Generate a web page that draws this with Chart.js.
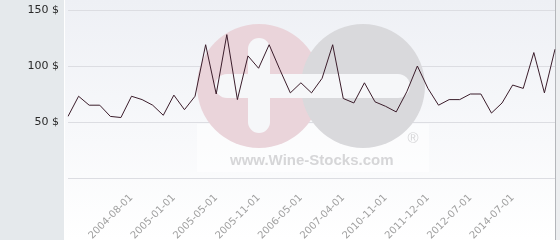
<!DOCTYPE html>
<html>
<head>
<meta charset="utf-8">
<script src="https://cdn.jsdelivr.net/npm/chart.js@4"></script>
<style>
  html, body { margin: 0; padding: 0; background: #fff; }
  #wrap { width: 560px; height: 240px; }
</style>
</head>
<body>
<div id="wrap"><canvas id="priceChart" width="560" height="240"></canvas></div>
<script>
// only the dates printed on the axis are known, the rest are left blank
const dates = ['', '', '', '', '', '', '2004-08-01', '', '', '', '2005-01-01', '', '', '',
  '2005-05-01', '', '', '', '2005-11-01', '', '', '', '2006-05-01', '', '', '', '2007-04-01',
  '', '', '', '2010-11-01', '', '', '', '2011-12-01', '', '', '', '2012-07-01', '', '', '',
  '2014-07-01', '', '', '', ''];
const prices = [55, 73, 65, 65, 55, 54, 73, 70, 65, 56, 74, 61, 73, 119, 75, 128, 70, 109,
  98, 119, 97, 76, 85, 76, 89, 119, 71, 67, 85, 68, 64, 59, 77, 100, 80, 65, 70, 70, 75, 75,
  58, 67, 83, 80, 112, 76, 115];
const yTicks = [0, 50, 100, 150];

// fond : panneau gris à gauche, dégradé dans la zone du graphique
const background = {
  id: 'background',
  beforeDraw(chart) {
    const c = chart.ctx;
    const area = chart.chartArea;
    c.save();
    c.fillStyle = '#e5e9ec';
    c.fillRect(0, 0, 64, chart.height);
    c.fillStyle = '#ffffff';
    c.fillRect(64, 0, 1, chart.height);
    const g = c.createLinearGradient(0, 0, 0, chart.height);
    g.addColorStop(0, '#eef0f5');
    g.addColorStop(1, '#ffffff');
    c.fillStyle = g;
    c.fillRect(65, 0, area.right - 65, chart.height);
    c.fillStyle = '#b4b6ba';
    c.fillRect(area.right, 0, 1, chart.height);
    c.fillStyle = '#eceef0';
    c.fillRect(area.right + 1, 0, chart.width - area.right - 1, chart.height);
    c.restore();
  }
};

// logo en filigrane derrière la courbe
const watermark = {
  id: 'watermark',
  beforeDatasetsDraw(chart) {
    const c = chart.ctx;
    c.save();
    c.fillStyle = 'rgba(255,255,255,0.55)';
    c.fillRect(197, 124, 232, 48);
    c.fillStyle = '#ead4da';
    c.beginPath();
    c.arc(259, 86, 62, 0, Math.PI * 2);
    c.fill();
    c.fillStyle = '#d9d9dc';
    c.beginPath();
    c.arc(363, 86, 62, 0, Math.PI * 2);
    c.fill();
    c.fillStyle = '#f6f7f9';
    c.beginPath();
    c.roundRect(215, 74, 195, 24, 12);
    c.fill();
    c.beginPath();
    c.roundRect(248, 38, 22, 95, 11);
    c.fill();
    c.fillStyle = '#d6d6d8';
    c.font = 'bold 15px "Liberation Sans"';
    c.textBaseline = 'middle';
    c.fillText('www.Wine-Stocks.com', 230, 161, 164);
    c.font = '15px "Liberation Sans"';
    c.textAlign = 'center';
    c.fillText('®', 413, 139);
    c.restore();
  }
};

const ctx = document.getElementById('priceChart').getContext('2d');
const priceChart = new Chart(ctx, {
  type: 'line',
  data: {
    labels: dates,
    datasets: [{
      data: prices,
      borderColor: '#3b1d2b',
      borderWidth: 1,
      pointRadius: 0,
      tension: 0,
      fill: false
    }]
  },
  options: {
    responsive: false,
    animation: false,
    layout: { padding: { top: 10, right: 5, left: 0, bottom: 0 } },
    plugins: { legend: { display: false }, tooltip: { enabled: false } },
    scales: {
      y: {
        min: 0,
        max: 150,
        afterBuildTicks(axis) { axis.ticks = yTicks.map(v => ({ value: v })); },
        afterFit(axis) {
          axis.width = 68;
          axis.paddingTop = 0;
          axis.paddingBottom = 0;
        },
        border: { display: false },
        grid: { color: '#dcdde2', drawTicks: false },
        ticks: {
          padding: 9,
          color: '#2a2a2a',
          font: { family: 'DejaVu Sans', size: 11 },
          callback: v => v === 0 ? '' : v + ' $'
        }
      },
      x: {
        offset: false,
        afterFit(axis) {
          axis.height = 62;
          axis.paddingLeft = 0;
          axis.paddingRight = 0;
        },
        border: { display: false },
        grid: { display: false },
        ticks: {
          autoSkip: false,
          minRotation: 45,
          maxRotation: 45,
          padding: 6,
          color: '#a0a0a0',
          font: { family: 'DejaVu Sans', size: 10 }
        }
      }
    }
  },
  plugins: [background, watermark]
});
</script>
</body>
</html>
